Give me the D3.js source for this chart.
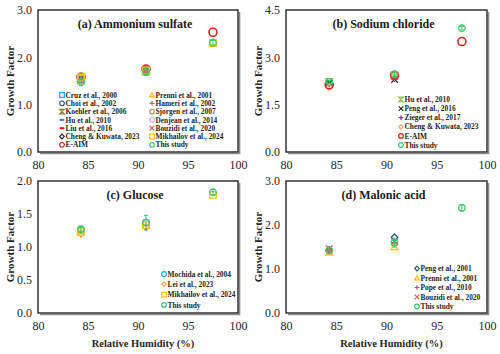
<!DOCTYPE html>
<html>
<head>
<meta charset="utf-8">
<script src="https://cdn.jsdelivr.net/npm/d3@7"></script>
<style>
  body { margin: 0; background: #fff; }
</style>
</head>
<body>
<svg id="chart" width="500" height="354"></svg>
<script>
// relative humidity levels (%)
const rhLevels = [84.3, 90.8, 97.5];

// (a) ammonium sulfate
const asNames = ['Cruz et al., 2000', 'Choi et al., 2002', 'Koehler et al., 2006', 'Hu et al., 2010',
  'Liu et al., 2016', 'Cheng & Kuwata, 2023', 'E-AIM', 'Prenni et al., 2001', 'Hameri et al., 2002',
  'Sjorgen et al., 2007', 'Denjean et al., 2014', 'Bouzidi et al., 2020', 'Mikhailov et al., 2024', 'This study'];
const asValues = [
  [1.55, 1.70, null], [1.52, 1.71, null], [1.56, 1.72, null], [1.50, 1.68, null],
  [1.58, 1.73, null], [1.54, 1.70, null], [1.58, 1.75, 2.53], [1.50, 1.69, null],
  [1.53, 1.71, null], [1.60, 1.74, null], [1.55, 1.70, null], [1.52, 1.72, null],
  [1.57, 1.72, 2.30], [1.48, 1.70, 2.31]
];
const asErr = [0.08, 0.08, 0.05];

// (b) sodium chloride
const ncNames = ['Hu et al., 2010', 'Peng et al., 2016', 'Zieger et al., 2017', 'Cheng & Kuwata, 2023', 'E-AIM', 'This study'];
const ncValues = [
  [2.22, 2.42, null], [2.18, 2.30, null], [2.16, 2.32, null],
  [2.05, 2.38, null], [2.13, 2.43, 3.50], [2.22, 2.46, 3.92]
];
const ncErr = [0.05, 0.07, 0.05];

// (c) glucose
const glNames = ['Mochida et al., 2004', 'Lei et al., 2023', 'Mikhailov et al., 2024', 'This study'];
const glValues = [
  [1.26, 1.37, null], [1.20, 1.30, null], [1.23, 1.33, 1.79], [1.27, 1.37, 1.83]
];
const glErr = [0.03, 0.11, 0.04];

// (d) malonic acid
const maNames = ['Peng et al., 2001', 'Prenni et al., 2001', 'Pope et al., 2010', 'Bouzidi et al., 2020', 'This study'];
const maValues = [
  [1.43, 1.72, null], [1.38, 1.50, null], [1.42, 1.60, null], [1.46, 1.62, null], [1.42, 1.60, 2.39]
];
const maErr = [0.03, 0.10, 0.07];

const xTicks = [80, 85, 90, 95, 100];

const serif = "'Liberation Serif', 'Times New Roman', 'DejaVu Serif', serif";

// marker styles per reference
const styles = {
  'Cruz et al., 2000': { shape: 'square', color: '#00b0f0' },
  'Choi et al., 2002': { shape: 'circle', color: '#2f5597' },
  'Koehler et al., 2006': { shape: 'hourglass', color: '#8a7f3a' },
  'Hu et al., 2010': { shape: 'dash', color: '#4472c4' },
  'Liu et al., 2016': { shape: 'dash', color: '#ff0000' },
  'Cheng & Kuwata, 2023': { shape: 'diamond', color: '#262626' },
  'E-AIM': { shape: 'circle', color: '#e02020', big: true },
  'Prenni et al., 2001': { shape: 'triangle', color: '#ffc000' },
  'Hameri et al., 2002': { shape: 'plus', color: '#7f7f7f' },
  'Sjorgen et al., 2007': { shape: 'circle', color: '#a8955a' },
  'Denjean et al., 2014': { shape: 'circle', color: '#c9b6e8' },
  'Bouzidi et al., 2020': { shape: 'x', color: '#e05a5a' },
  'Mikhailov et al., 2024': { shape: 'square', color: '#ffc000' },
  'This study': { shape: 'circle', color: '#3cc46c' },
  'Peng et al., 2016': { shape: 'x', color: '#262626' },
  'Zieger et al., 2017': { shape: 'plus', color: '#7030a0' },
  'Mochida et al., 2004': { shape: 'circle', color: '#00b0f0' },
  'Lei et al., 2023': { shape: 'diamond', color: '#f4a460' },
  'Peng et al., 2001': { shape: 'diamond', color: '#2f5597' },
  'Pope et al., 2010': { shape: 'plus', color: '#8064a2' }
};
// panel (b) uses different markers for some sources
const ncStyles = { 'Hu et al., 2010': { shape: 'hourglass', color: '#9bbb59' },
  'Cheng & Kuwata, 2023': { shape: 'diamond', color: '#f4b183' } };

function shapePath(shape, s) {
  const p = d3.path();
  if (shape === 'circle') { p.moveTo(s, 0); p.arc(0, 0, s, 0, 2 * Math.PI); }
  else if (shape === 'square') { p.rect(-s, -s, 2 * s, 2 * s); }
  else if (shape === 'triangle') { p.moveTo(0, -s); p.lineTo(s, s * 0.8); p.lineTo(-s, s * 0.8); p.closePath(); }
  else if (shape === 'diamond') { p.moveTo(0, -s); p.lineTo(s, 0); p.lineTo(0, s); p.lineTo(-s, 0); p.closePath(); }
  else if (shape === 'plus') { p.moveTo(-s, 0); p.lineTo(s, 0); p.moveTo(0, -s); p.lineTo(0, s); }
  else if (shape === 'x') { p.moveTo(-s, -s); p.lineTo(s, s); p.moveTo(-s, s); p.lineTo(s, -s); }
  else if (shape === 'dash') { p.moveTo(-s, 0); p.lineTo(s, 0); }
  else if (shape === 'hourglass') { p.moveTo(-s, -s); p.lineTo(s, -s); p.lineTo(-s, s); p.lineTo(s, s); p.closePath(); }
  return p.toString();
}

const svg = d3.select('#chart');

const panels = [
  { title: '(a) Ammonium sulfate', names: asNames, values: asValues, err: asErr, yMax: 3.0, yStep: 1.0,
    box: [38, 238, 10, 152], hTitle: 28, legend: { cols: 2, x: [62, 152], y: 95, dy: 8.3 }, xLabel: false, st: {} },
  { title: '(b) Sodium chloride', names: ncNames, values: ncValues, err: ncErr, yMax: 4.5, yStep: 1.5,
    box: [286, 487, 10, 152], hTitle: 28, legend: { cols: 1, x: [401], y: 99.5, dy: 9.1 }, xLabel: false, st: ncStyles },
  { title: '(c) Glucose', names: glNames, values: glValues, err: glErr, yMax: 2.0, yStep: 0.5,
    box: [38, 238, 181, 313], hTitle: 199, legend: { cols: 1, x: [164], y: 274, dy: 10.3 }, xLabel: true, st: {} },
  { title: '(d) Malonic acid', names: maNames, values: maValues, err: maErr, yMax: 3.0, yStep: 1.0,
    box: [286, 487, 181, 313], hTitle: 199, legend: { cols: 1, x: [417], y: 268.5, dy: 9.5 }, xLabel: true, st: {} }
];

panels.forEach(function(pn) {
  const [x0, x1, y0, y1] = pn.box;
  const x = d3.scaleLinear().domain([80, 100]).range([x0, x1]);
  const y = d3.scaleLinear().domain([0, pn.yMax]).range([y1, y0]);
  const g = svg.append('g');
  const styleOf = function(name) { return pn.st[name] || styles[name]; };

  // plot frame with shadow
  g.append('path')
    .attr('d', 'M' + (x1 + 1.5) + ',' + (y0 + 2) + 'V' + (y1 + 1.5) + 'H' + (x0 + 2))
    .attr('fill', 'none').attr('stroke', '#8c8c8c').attr('stroke-width', 1.6);
  g.append('rect')
    .attr('x', x0).attr('y', y0).attr('width', x1 - x0).attr('height', y1 - y0)
    .attr('fill', 'none').attr('stroke', '#262626').attr('stroke-width', 1.4);

  // axes
  const yTicks = d3.range(0, pn.yMax + 1e-9, pn.yStep);
  const yAxis = d3.axisLeft(y).tickValues(yTicks).tickFormat(d3.format('.1f')).tickSize(0).tickPadding(6);
  const xAxis = d3.axisBottom(x).tickValues(xTicks).tickFormat(d3.format('d')).tickSize(0).tickPadding(8);
  const ya = g.append('g').attr('transform', 'translate(' + x0 + ',0)').call(yAxis);
  const xa = g.append('g').attr('transform', 'translate(0,' + y1 + ')').call(xAxis);
  [ya, xa].forEach(function(a) {
    a.attr('font-family', null).attr('font-size', null);
    a.select('.domain').remove();
    a.selectAll('text').style('font-family', serif).style('font-size', '12px').attr('fill', '#262626');
  });

  // axis titles
  g.append('text')
    .attr('transform', 'translate(' + (x0 - 24) + ',' + ((y0 + y1) / 2) + ') rotate(-90)')
    .attr('text-anchor', 'middle')
    .style('font-family', serif).style('font-size', '11px').attr('font-weight', 'bold').attr('fill', '#262626')
    .text('Growth Factor');
  if (pn.xLabel) {
    g.append('text')
      .attr('x', (x0 + x1) / 2 + 5).attr('y', 347)
      .attr('text-anchor', 'middle')
      .style('font-family', serif).style('font-size', '10.5px').attr('font-weight', 'bold').attr('fill', '#262626')
      .text('Relative Humidity (%)');
  }

  // panel title
  g.append('text')
    .attr('x', (x0 + x1) / 2 - 3).attr('y', pn.hTitle)
    .attr('text-anchor', 'middle')
    .style('font-family', serif).style('font-size', '12px').attr('font-weight', 'bold').attr('fill', '#1a1a1a')
    .text(pn.title);

  // data markers
  pn.names.forEach(function(name, si) {
    const st = styleOf(name);
    const pts = pn.values[si].map(function(v, i) { return { rh: rhLevels[i], v: v, i: i }; })
      .filter(function(d) { return d.v !== null; });
    const sg = g.append('g');
    if (name === 'This study') {
      sg.selectAll('path.err').data(pts).enter().append('path')
        .attr('class', 'err')
        .attr('d', function(d) {
          const cx = x(d.rh), lo = y(d.v - pn.err[d.i]), hi = y(d.v + pn.err[d.i]);
          return 'M' + cx + ',' + lo + 'V' + hi + 'M' + (cx - 2) + ',' + lo + 'H' + (cx + 2) + 'M' + (cx - 2) + ',' + hi + 'H' + (cx + 2);
        })
        .attr('fill', 'none').attr('stroke', st.color).attr('stroke-width', 1);
    }
    sg.selectAll('path.mk').data(pts).enter().append('path')
      .attr('class', 'mk')
      .attr('transform', function(d) { return 'translate(' + x(d.rh) + ',' + y(d.v) + ')'; })
      .attr('d', shapePath(st.shape, st.big ? 4 : 3.3))
      .attr('fill', 'none')
      .attr('stroke', st.color)
      .attr('stroke-width', st.shape === 'dash' ? 2.4 : (st.big ? 1.6 : 1.3));
  });

  // legend
  const lg = pn.legend;
  const perCol = Math.ceil(pn.names.length / lg.cols);
  pn.names.forEach(function(name, i) {
    const st = styleOf(name);
    const col = Math.floor(i / perCol), row = i % perCol;
    const lx = lg.x[col], ly = lg.y + row * lg.dy;
    g.append('path')
      .attr('transform', 'translate(' + lx + ',' + ly + ')')
      .attr('d', shapePath(st.shape, 2.3))
      .attr('fill', 'none').attr('stroke', st.color)
      .attr('stroke-width', st.shape === 'dash' ? 2 : 1.2);
    g.append('text')
      .attr('x', lx + 3.5).attr('y', ly + 2.6)
      .style('font-family', serif).style('font-size', '7.4px').attr('font-weight', 'bold').attr('fill', '#262626')
      .text(name);
  });
});
</script>
</body>
</html>
